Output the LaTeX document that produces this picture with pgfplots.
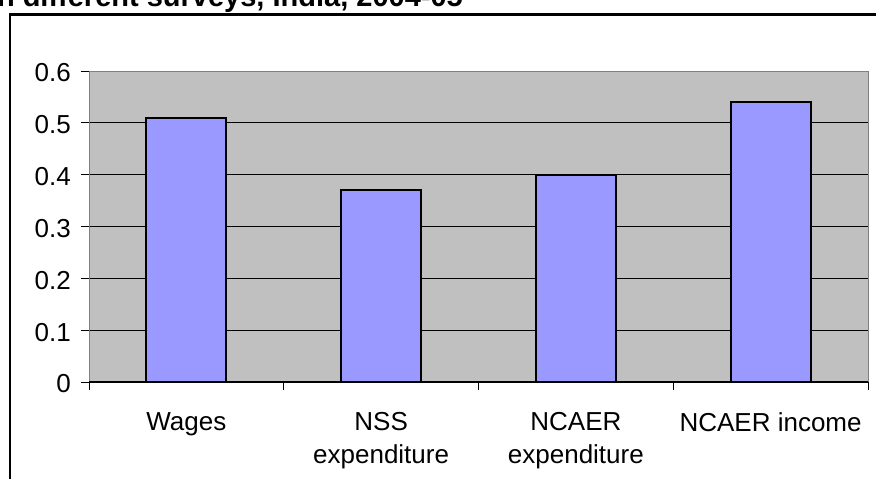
\documentclass[border=0pt]{standalone}
\usepackage{pgfplots}
\pgfplotsset{compat=1.18}
\usepackage{fontspec}
\setmainfont{Liberation Sans}
\definecolor{plotbg}{HTML}{C0C0C0}
\definecolor{barfill}{HTML}{9999FF}
\definecolor{bordergray}{HTML}{808080}
\begin{document}
\begin{tikzpicture}[x=1pt,y=1pt]
\useasboundingbox (0,0) rectangle (876,479);
\clip (0,0) rectangle (876,479);
\fill[white] (0,0) rectangle (876,479);
\node[anchor=base east, font=\fontsize{29}{34}\selectfont\bfseries, inner sep=0pt] at (463,472) {Figure 1: Inequality in different surveys, India, 2004-05};
\draw[line width=2.5pt] (10,-20) -- (10,464.5) -- (900,464.5);
\begin{axis}[
  at={(89pt,97pt)}, anchor=south west,
  scale only axis, width=779pt, height=311pt,
  xmin=-0.5, xmax=3.5, ymin=0, ymax=0.6,
  axis background/.style={fill=plotbg},
  axis line style={draw=bordergray, line width=1pt},
  ytick={0,0.1,0.2,0.3,0.4,0.5,0.6},
  ymajorgrids,
  grid style={black, line width=0.9pt},
  tick align=outside,
  major tick length=8pt,
  tick style={black, line width=0.9pt},
  xtick={-0.5,0.5,1.5,2.5,3.5},
  xticklabels={},
  extra x ticks={0,1,2,3},
  extra x tick labels={Wages,{NSS\\expenditure},{NCAER\\expenditure},{NCAER income}},
  extra x tick style={major tick length=0pt},
  xticklabel style={font=\fontsize{26}{33}\selectfont, align=center, anchor=north, inner sep=0pt, yshift=-30pt},
  yticklabel style={font=\fontsize{26}{30}\selectfont, anchor=east, inner sep=0pt, xshift=-10pt, yshift=-2pt},
  /pgf/number format/assume math mode=true,
  /pgf/number format/fixed,
  /pgf/number format/precision=1,
  ytick pos=left, xtick pos=bottom,
]
\addplot[ybar, bar width=80pt, fill=barfill, draw=black, line width=1.8pt]
  coordinates {(0,0.51) (1,0.37) (2,0.40) (3,0.54)};
\draw[black, line width=1pt] (axis cs:-0.5,0) -- (axis cs:3.5,0);
\end{axis}
\end{tikzpicture}
\end{document}
